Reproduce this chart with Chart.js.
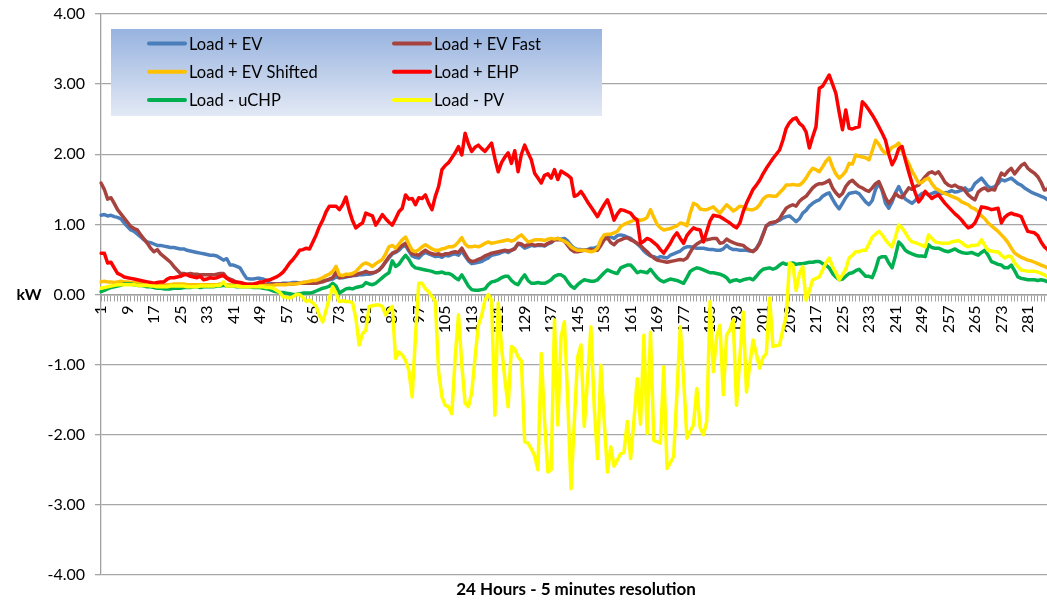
<!DOCTYPE html>
<html>
<head>
<meta charset="utf-8">
<title>Load profiles</title>
<script src="https://cdn.jsdelivr.net/npm/chart.js@4.4.0/dist/chart.umd.min.js"></script>
<style>
    html, body { margin: 0; padding: 0; background: #fff; overflow: hidden; }
    #wrap { width: 1052px; height: 601px; }
</style>
</head>
<body>
<div id="wrap"><canvas id="load-chart" width="1052" height="601"></canvas></div>
<script>
// 5 minute samples over 24 hours
const categories = [];
for (let i = 1; i <= 288; i++) categories.push(String(i));

const tickLabels = ['1','9','17','25','33','41','49','57','65','73','81','89','97','105','113','121','129','137',
    '145','153','161','169','177','185','193','201','209','217','225','233','241','249','257','265','273','281'];

const seriesNames = ['Load + EV', 'Load + EV Fast', 'Load + EV Shifted', 'Load + EHP', 'Load - uCHP', 'Load - PV'];
const seriesColors = ['#4a7ebb', '#a6433f', '#ffc000', '#ff0000', '#00b050', '#ffff00'];

const yTicks = [-4, -3, -2, -1, 0, 1, 2, 3, 4];
const yAxisLabel = 'kW';
const xAxisTitle = '24 Hours - 5 minutes resolution';

const loadEV = [
    1.13, 1.14, 1.12, 1.13, 1.11, 1.10, 1.08, 1.02, 0.97, 0.92, 0.90, 0.86, 0.82, 0.78, 0.75, 0.74,
    0.72, 0.70, 0.70, 0.69, 0.68, 0.67, 0.67, 0.66, 0.65, 0.65, 0.63, 0.62, 0.61, 0.60, 0.59, 0.58,
    0.57, 0.56, 0.56, 0.55, 0.52, 0.49, 0.51, 0.42, 0.42, 0.40, 0.38, 0.30, 0.23, 0.22, 0.22, 0.23,
    0.23, 0.22, 0.20, 0.16, 0.15, 0.15, 0.15, 0.16, 0.16, 0.16, 0.17, 0.17, 0.16, 0.17, 0.17, 0.18,
    0.18, 0.18, 0.19, 0.20, 0.20, 0.21, 0.22, 0.25, 0.24, 0.24, 0.25, 0.26, 0.27, 0.27, 0.28, 0.28,
    0.29, 0.29, 0.30, 0.32, 0.35, 0.40, 0.46, 0.52, 0.58, 0.60, 0.63, 0.68, 0.70, 0.62, 0.55, 0.53,
    0.52, 0.57, 0.60, 0.58, 0.56, 0.54, 0.55, 0.53, 0.56, 0.55, 0.57, 0.58, 0.56, 0.62, 0.55, 0.48,
    0.44, 0.45, 0.46, 0.47, 0.50, 0.52, 0.56, 0.57, 0.58, 0.60, 0.62, 0.60, 0.63, 0.66, 0.72, 0.70,
    0.66, 0.68, 0.70, 0.69, 0.70, 0.70, 0.69, 0.72, 0.74, 0.78, 0.80, 0.79, 0.80, 0.76, 0.70, 0.66,
    0.64, 0.64, 0.63, 0.64, 0.66, 0.66, 0.68, 0.72, 0.80, 0.84, 0.82, 0.80, 0.84, 0.85, 0.84, 0.82,
    0.80, 0.76, 0.72, 0.68, 0.62, 0.58, 0.55, 0.54, 0.52, 0.54, 0.53, 0.52, 0.56, 0.58, 0.60, 0.62,
    0.66, 0.68, 0.68, 0.67, 0.66, 0.66, 0.66, 0.65, 0.64, 0.64, 0.63, 0.63, 0.65, 0.70, 0.66, 0.64,
    0.64, 0.63, 0.63, 0.63, 0.62, 0.62, 0.66, 0.74, 0.86, 0.98, 1.00, 1.01, 1.04, 1.06, 1.09, 1.11,
    1.12, 1.08, 1.04, 1.08, 1.16, 1.20, 1.26, 1.30, 1.33, 1.35, 1.40, 1.43, 1.45, 1.36, 1.28, 1.22,
    1.30, 1.38, 1.44, 1.45, 1.46, 1.44, 1.38, 1.32, 1.28, 1.34, 1.50, 1.59, 1.48, 1.30, 1.23, 1.32,
    1.45, 1.54, 1.44, 1.36, 1.33, 1.30, 1.34, 1.40, 1.44, 1.45, 1.42, 1.44, 1.46, 1.45, 1.44, 1.45,
    1.46, 1.48, 1.46, 1.47, 1.49, 1.52, 1.48, 1.50, 1.58, 1.62, 1.66, 1.60, 1.54, 1.52, 1.54, 1.58,
    1.64, 1.62, 1.64, 1.66, 1.62, 1.58, 1.56, 1.52, 1.49, 1.46, 1.44, 1.42, 1.40, 1.38, 1.35, 1.36
];

const loadEVFast = [
    1.59, 1.50, 1.36, 1.38, 1.30, 1.21, 1.15, 1.09, 1.03, 0.97, 0.94, 0.92, 0.85, 0.79, 0.73, 0.66,
    0.61, 0.64, 0.58, 0.54, 0.50, 0.46, 0.40, 0.35, 0.30, 0.30, 0.29, 0.30, 0.29, 0.29, 0.28, 0.28,
    0.28, 0.28, 0.28, 0.29, 0.30, 0.30, 0.24, 0.22, 0.20, 0.17, 0.16, 0.15, 0.15, 0.15, 0.14, 0.14,
    0.14, 0.14, 0.14, 0.14, 0.15, 0.15, 0.15, 0.15, 0.15, 0.15, 0.15, 0.16, 0.16, 0.16, 0.16, 0.16,
    0.16, 0.16, 0.17, 0.18, 0.20, 0.22, 0.24, 0.32, 0.24, 0.25, 0.26, 0.26, 0.27, 0.28, 0.30, 0.31,
    0.33, 0.31, 0.31, 0.32, 0.35, 0.40, 0.47, 0.54, 0.59, 0.61, 0.66, 0.70, 0.73, 0.64, 0.58, 0.57,
    0.56, 0.60, 0.63, 0.60, 0.58, 0.57, 0.58, 0.56, 0.58, 0.58, 0.60, 0.61, 0.60, 0.66, 0.58, 0.50,
    0.47, 0.48, 0.50, 0.52, 0.55, 0.57, 0.59, 0.60, 0.61, 0.62, 0.63, 0.62, 0.63, 0.65, 0.73, 0.72,
    0.69, 0.71, 0.72, 0.70, 0.71, 0.71, 0.70, 0.73, 0.75, 0.78, 0.78, 0.78, 0.76, 0.70, 0.64, 0.61,
    0.61, 0.62, 0.63, 0.63, 0.64, 0.63, 0.63, 0.70, 0.78, 0.81, 0.74, 0.71, 0.76, 0.78, 0.80, 0.81,
    0.78, 0.76, 0.73, 0.70, 0.65, 0.61, 0.56, 0.52, 0.49, 0.48, 0.47, 0.46, 0.47, 0.48, 0.49, 0.50,
    0.49, 0.52, 0.60, 0.68, 0.72, 0.75, 0.78, 0.78, 0.79, 0.80, 0.80, 0.73, 0.74, 0.79, 0.76, 0.74,
    0.72, 0.71, 0.70, 0.66, 0.63, 0.61, 0.65, 0.73, 0.85, 0.98, 1.02, 1.03, 1.04, 1.08, 1.16, 1.23,
    1.26, 1.28, 1.26, 1.33, 1.37, 1.40, 1.46, 1.52, 1.56, 1.58, 1.58, 1.60, 1.63, 1.52, 1.45, 1.40,
    1.44, 1.54, 1.60, 1.63, 1.58, 1.54, 1.52, 1.49, 1.47, 1.52, 1.58, 1.61, 1.50, 1.38, 1.30, 1.36,
    1.44, 1.40, 1.38, 1.45, 1.52, 1.50, 1.54, 1.56, 1.62, 1.68, 1.73, 1.75, 1.72, 1.75, 1.68, 1.60,
    1.56, 1.54, 1.56, 1.53, 1.52, 1.48, 1.42, 1.38, 1.35, 1.46, 1.50, 1.52, 1.48, 1.50, 1.49, 1.62,
    1.73, 1.70, 1.76, 1.80, 1.72, 1.78, 1.84, 1.87, 1.80, 1.76, 1.73, 1.68, 1.60, 1.49, 1.50, 1.63
];

const loadEVShifted = [
    0.18, 0.19, 0.18, 0.18, 0.17, 0.18, 0.19, 0.18, 0.18, 0.17, 0.17, 0.17, 0.16, 0.16, 0.15, 0.15,
    0.14, 0.14, 0.14, 0.13, 0.14, 0.14, 0.15, 0.15, 0.15, 0.15, 0.14, 0.14, 0.14, 0.14, 0.14, 0.14,
    0.14, 0.14, 0.14, 0.14, 0.15, 0.15, 0.14, 0.14, 0.13, 0.13, 0.13, 0.13, 0.13, 0.13, 0.13, 0.13,
    0.13, 0.13, 0.13, 0.13, 0.13, 0.14, 0.14, 0.14, 0.14, 0.15, 0.15, 0.15, 0.16, 0.17, 0.18, 0.19,
    0.20, 0.20, 0.22, 0.24, 0.27, 0.29, 0.33, 0.40, 0.28, 0.27, 0.29, 0.29, 0.30, 0.33, 0.38, 0.43,
    0.45, 0.43, 0.40, 0.44, 0.47, 0.50, 0.58, 0.68, 0.70, 0.66, 0.72, 0.78, 0.82, 0.72, 0.63, 0.61,
    0.64, 0.68, 0.71, 0.68, 0.65, 0.63, 0.63, 0.65, 0.66, 0.68, 0.68, 0.70, 0.75, 0.81, 0.72, 0.68,
    0.68, 0.69, 0.68, 0.70, 0.73, 0.75, 0.73, 0.74, 0.75, 0.76, 0.77, 0.78, 0.76, 0.78, 0.82, 0.85,
    0.80, 0.75, 0.76, 0.78, 0.78, 0.78, 0.77, 0.79, 0.80, 0.79, 0.80, 0.78, 0.76, 0.73, 0.68, 0.65,
    0.63, 0.63, 0.63, 0.62, 0.61, 0.62, 0.66, 0.78, 0.85, 0.86, 0.86, 0.88, 0.90, 0.97, 1.00, 1.02,
    1.04, 1.06, 1.07, 1.06, 1.07, 1.10, 1.21, 1.10, 1.00, 0.95, 0.92, 0.93, 0.94, 0.96, 0.98, 1.02,
    1.01, 0.98, 1.16, 1.30, 1.28, 1.22, 1.21, 1.21, 1.23, 1.25, 1.20, 1.16, 1.22, 1.28, 1.24, 1.19,
    1.22, 1.26, 1.25, 1.22, 1.21, 1.21, 1.23, 1.28, 1.36, 1.40, 1.41, 1.40, 1.40, 1.45, 1.50, 1.56,
    1.56, 1.57, 1.56, 1.56, 1.60, 1.66, 1.74, 1.80, 1.78, 1.75, 1.82, 1.90, 1.95, 1.82, 1.72, 1.66,
    1.70, 1.76, 1.87, 1.86, 1.99, 1.97, 1.96, 1.95, 1.92, 2.05, 2.20, 2.14, 2.06, 2.01, 2.04, 2.10,
    2.12, 2.16, 2.05, 1.95, 1.87, 1.76, 1.68, 1.59, 1.60, 1.64, 1.66, 1.58, 1.52, 1.49, 1.46, 1.44,
    1.42, 1.40, 1.38, 1.36, 1.32, 1.30, 1.28, 1.24, 1.22, 1.18, 1.12, 1.08, 1.02, 0.98, 0.94, 0.90,
    0.85, 0.80, 0.74, 0.66, 0.59, 0.56, 0.53, 0.51, 0.49, 0.48, 0.46, 0.44, 0.42, 0.40, 0.38, 0.38
];

const loadEHP = [
    0.59, 0.59, 0.45, 0.46, 0.38, 0.30, 0.28, 0.25, 0.24, 0.23, 0.22, 0.21, 0.20, 0.19, 0.18, 0.17,
    0.16, 0.17, 0.18, 0.18, 0.22, 0.24, 0.24, 0.25, 0.26, 0.28, 0.28, 0.26, 0.25, 0.24, 0.26, 0.21,
    0.22, 0.24, 0.23, 0.24, 0.26, 0.27, 0.23, 0.20, 0.18, 0.18, 0.17, 0.16, 0.14, 0.14, 0.15, 0.16,
    0.18, 0.18, 0.20, 0.21, 0.23, 0.25, 0.28, 0.32, 0.38, 0.45, 0.50, 0.56, 0.63, 0.64, 0.66, 0.65,
    0.75, 0.85, 0.97, 1.06, 1.18, 1.26, 1.26, 1.26, 1.21, 1.28, 1.39, 1.20, 1.05, 0.95, 0.99, 1.02,
    1.16, 1.14, 1.12, 0.99, 1.06, 1.14, 1.08, 1.03, 0.99, 1.08, 1.18, 1.23, 1.42, 1.36, 1.37, 1.28,
    1.38, 1.37, 1.42, 1.30, 1.21, 1.40, 1.54, 1.78, 1.84, 1.88, 1.95, 2.02, 2.11, 1.99, 2.30, 2.15,
    2.04, 2.10, 2.13, 2.08, 2.04, 2.10, 2.16, 1.94, 1.75, 1.88, 1.96, 2.02, 1.87, 2.05, 1.75, 2.00,
    2.13, 2.02, 1.92, 1.73, 1.66, 1.59, 1.70, 1.72, 1.66, 1.78, 1.64, 1.76, 1.73, 1.70, 1.66, 1.40,
    1.42, 1.47, 1.40, 1.32, 1.25, 1.18, 1.11, 1.20, 1.28, 1.35, 1.22, 1.06, 1.15, 1.21, 1.20, 1.18,
    1.16, 1.10, 1.06, 0.73, 0.76, 0.80, 0.78, 0.74, 0.70, 0.64, 0.59, 0.66, 0.73, 0.82, 0.88, 0.80,
    0.73, 0.84, 0.90, 0.95, 0.93, 0.92, 0.75, 0.90, 1.05, 1.13, 1.12, 1.11, 1.08, 1.05, 1.02, 0.98,
    0.95, 1.02, 1.18, 1.30, 1.40, 1.50, 1.56, 1.63, 1.72, 1.80, 1.87, 1.94, 2.00, 2.06, 2.20, 2.37,
    2.45, 2.50, 2.52, 2.44, 2.40, 2.32, 2.09, 2.25, 2.39, 2.94, 2.97, 3.05, 3.13, 3.00, 2.87, 2.60,
    2.35, 2.63, 2.37, 2.36, 2.38, 2.39, 2.75, 2.70, 2.63, 2.56, 2.48, 2.39, 2.30, 2.20, 2.00, 1.85,
    1.94, 2.08, 2.11, 1.92, 1.75, 1.59, 1.45, 1.32, 1.38, 1.47, 1.42, 1.37, 1.40, 1.42, 1.36, 1.30,
    1.25, 1.20, 1.15, 1.11, 1.06, 1.00, 0.95, 0.97, 1.02, 1.12, 1.25, 1.24, 1.23, 1.21, 1.22, 1.23,
    1.02, 1.10, 1.14, 1.16, 1.14, 1.13, 1.11, 1.00, 0.90, 0.89, 0.88, 0.84, 0.75, 0.68, 0.64, 0.55
];

const loadUCHP = [
    0.04, 0.06, 0.08, 0.10, 0.11, 0.12, 0.13, 0.15, 0.15, 0.15, 0.14, 0.13, 0.13, 0.12, 0.11, 0.11,
    0.10, 0.09, 0.09, 0.08, 0.08, 0.08, 0.09, 0.09, 0.09, 0.10, 0.10, 0.10, 0.11, 0.11, 0.10, 0.11,
    0.11, 0.11, 0.11, 0.12, 0.12, 0.13, 0.12, 0.12, 0.12, 0.11, 0.11, 0.11, 0.11, 0.11, 0.10, 0.10,
    0.10, 0.09, 0.08, 0.07, 0.05, 0.04, 0.03, 0.03, 0.02, 0.01, 0.00, 0.00, 0.01, 0.02, 0.02, 0.02,
    0.03, 0.05, 0.07, 0.09, 0.10, 0.12, 0.16, 0.12, 0.02, 0.05, 0.08, 0.09, 0.08, 0.10, 0.11, 0.12,
    0.17, 0.15, 0.14, 0.16, 0.20, 0.24, 0.28, 0.31, 0.48, 0.40, 0.43, 0.50, 0.56, 0.50, 0.42, 0.38,
    0.37, 0.36, 0.35, 0.34, 0.33, 0.31, 0.31, 0.32, 0.30, 0.30, 0.28, 0.24, 0.21, 0.28, 0.20, 0.12,
    0.07, 0.06, 0.06, 0.07, 0.08, 0.14, 0.18, 0.19, 0.21, 0.24, 0.26, 0.26, 0.20, 0.16, 0.14, 0.22,
    0.28, 0.20, 0.16, 0.16, 0.17, 0.16, 0.16, 0.18, 0.21, 0.26, 0.28, 0.28, 0.25, 0.18, 0.12, 0.09,
    0.14, 0.18, 0.21, 0.20, 0.19, 0.19, 0.21, 0.26, 0.31, 0.35, 0.33, 0.31, 0.30, 0.38, 0.40, 0.42,
    0.42, 0.37, 0.31, 0.33, 0.32, 0.31, 0.36, 0.30, 0.24, 0.20, 0.18, 0.20, 0.22, 0.21, 0.20, 0.18,
    0.16, 0.24, 0.33, 0.36, 0.38, 0.37, 0.35, 0.33, 0.31, 0.31, 0.30, 0.29, 0.27, 0.24, 0.18, 0.20,
    0.21, 0.19, 0.21, 0.22, 0.23, 0.21, 0.26, 0.32, 0.36, 0.37, 0.38, 0.36, 0.38, 0.42, 0.45, 0.43,
    0.44, 0.45, 0.43, 0.44, 0.44, 0.45, 0.46, 0.46, 0.47, 0.47, 0.44, 0.42, 0.38, 0.30, 0.25, 0.21,
    0.22, 0.26, 0.30, 0.31, 0.34, 0.36, 0.31, 0.26, 0.26, 0.24, 0.36, 0.52, 0.54, 0.54, 0.45, 0.38,
    0.55, 0.75, 0.70, 0.63, 0.60, 0.58, 0.56, 0.55, 0.55, 0.54, 0.71, 0.67, 0.66, 0.66, 0.64, 0.62,
    0.61, 0.63, 0.65, 0.62, 0.60, 0.59, 0.59, 0.60, 0.58, 0.56, 0.60, 0.63, 0.56, 0.47, 0.45, 0.43,
    0.42, 0.38, 0.38, 0.42, 0.34, 0.25, 0.23, 0.22, 0.21, 0.21, 0.21, 0.20, 0.21, 0.20, 0.18, 0.19
];

const loadPV = [
    0.09, 0.10, 0.11, 0.12, 0.13, 0.14, 0.14, 0.14, 0.14, 0.14, 0.14, 0.13, 0.13, 0.13, 0.13, 0.12,
    0.12, 0.11, 0.11, 0.11, 0.11, 0.12, 0.12, 0.12, 0.12, 0.12, 0.11, 0.11, 0.11, 0.11, 0.12, 0.12,
    0.12, 0.12, 0.12, 0.13, 0.13, 0.18, 0.12, 0.12, 0.12, 0.12, 0.11, 0.11, 0.11, 0.11, 0.11, 0.11,
    0.11, 0.11, 0.10, 0.10, 0.09, 0.06, 0.03, -0.03, -0.04, -0.05, -0.03, 0.00, 0.00, -0.04, -0.10, -0.08,
    -0.12, -0.17, -0.30, -0.39, -0.22, -0.05, 0.11, 0.02, -0.10, -0.09, -0.10, -0.10, -0.12, -0.34, -0.72, -0.56,
    -0.51, -0.17, -0.16, -0.15, -0.15, -0.17, -0.29, -0.22, -0.17, -0.91, -0.82, -0.86, -0.94, -1.08, -1.46, -0.60,
    0.16, 0.16, 0.08, 0.04, -0.03, -0.10, -1.10, -1.46, -1.58, -1.60, -1.70, -0.90, -0.29, -1.00, -1.55, -1.60,
    -1.40, -0.90, -0.44, -0.30, -0.08, 0.00, -0.08, -1.72, -0.12, -0.75, -1.20, -1.60, -0.74, -0.78, -0.89, -0.95,
    -2.10, -2.12, -2.20, -2.30, -2.50, -0.84, -1.80, -2.53, -2.50, -0.36, -1.86, -0.60, -0.39, -1.50, -2.77, -1.80,
    -0.89, -0.72, -1.88, -1.20, -0.46, -1.60, -2.34, -1.01, -1.80, -2.53, -2.17, -2.45, -2.36, -2.27, -2.25, -1.81,
    -2.34, -1.80, -1.20, -1.85, -0.58, -1.98, -0.54, -2.08, -2.10, -2.12, -1.03, -2.48, -2.40, -2.31, -1.40, -0.46,
    -1.20, -2.05, -1.95, -1.86, -1.34, -1.90, -2.00, -1.81, -0.10, -1.10, -0.60, -0.44, -1.43, -0.58, -0.50, -0.36,
    -1.58, -0.90, -0.25, -1.39, -1.00, -0.65, -0.85, -1.05, -0.90, -0.84, -0.05, -0.74, -0.73, -0.72, -0.50, -0.32,
    0.45, 0.42, 0.06, 0.30, 0.40, -0.08, 0.05, 0.21, 0.23, 0.25, 0.35, 0.45, 0.52, 0.40, 0.31, 0.21,
    0.28, 0.36, 0.52, 0.56, 0.61, 0.61, 0.63, 0.63, 0.72, 0.82, 0.86, 0.90, 0.85, 0.78, 0.72, 0.68,
    0.82, 0.99, 0.95, 0.88, 0.80, 0.75, 0.74, 0.72, 0.70, 0.68, 0.85, 0.80, 0.75, 0.74, 0.73, 0.73,
    0.73, 0.75, 0.76, 0.77, 0.74, 0.70, 0.68, 0.70, 0.70, 0.71, 0.78, 0.70, 0.63, 0.62, 0.61, 0.61,
    0.56, 0.52, 0.55, 0.54, 0.45, 0.40, 0.35, 0.34, 0.33, 0.33, 0.33, 0.32, 0.30, 0.28, 0.25, 0.26
];

const seriesValues = [loadEV, loadEVFast, loadEVShifted, loadEHP, loadUCHP, loadPV];

const FONT = 'Lato, "Liberation Sans", sans-serif';
Chart.defaults.font.family = FONT;
Chart.defaults.color = '#000';

// axis titles and the legend box are painted over the plot, like the spreadsheet chart
const overlayPlugin = {
    id: 'overlay',
    afterDraw: function(chart) {
        var ctx = chart.ctx;
        var yScale = chart.scales.y;
        ctx.save();

        ctx.fillStyle = '#000';
        ctx.textAlign = 'center';
        ctx.textBaseline = 'middle';
        ctx.font = 'bold 16px ' + FONT;
        ctx.fillText(yAxisLabel, 29, yScale.getPixelForValue(0));
        ctx.font = 'bold 17px ' + FONT;
        ctx.fillText(xAxisTitle, 576, 590);

        // legend
        var lx = 111, ly = 29, lw = 491, lh = 87;
        var grad = ctx.createLinearGradient(0, ly, 0, ly + lh);
        grad.addColorStop(0, '#97b3df');
        grad.addColorStop(1, '#e3e9f5');
        ctx.fillStyle = grad;
        ctx.fillRect(lx, ly, lw, lh);

        ctx.font = '16.5px ' + FONT;
        ctx.textAlign = 'left';
        chart.data.datasets.forEach(function(ds, i) {
            var col = i % 2, row = Math.floor(i / 2);
            var x = lx + 38 + col * 245;
            var y = ly + 14.5 + row * 28.3;
            ctx.strokeStyle = ds.borderColor;
            ctx.lineWidth = 4;
            ctx.lineCap = 'round';
            ctx.beginPath();
            ctx.moveTo(x, y);
            ctx.lineTo(x + 36, y);
            ctx.stroke();
            ctx.fillStyle = '#000';
            ctx.fillText(ds.label, x + 40, y + 1);
        });

        ctx.restore();
    }
};

const datasets = seriesNames.map(function(name, i) {
    return {
        label: name,
        data: seriesValues[i],
        borderColor: seriesColors[i],
        backgroundColor: seriesColors[i],
        borderWidth: 3.5,
        pointRadius: 0,
        tension: 0,
        fill: false,
        borderJoinStyle: 'round',
        borderCapStyle: 'round',
        order: seriesNames.length - i   // later series on top
    };
});

const ctx = document.getElementById('load-chart').getContext('2d');
const chart = new Chart(ctx, {
    type: 'line',
    data: {
        labels: categories,
        datasets: datasets
    },
    options: {
        responsive: false,
        animation: false,
        devicePixelRatio: 1,
        layout: { padding: { top: 14, bottom: 26, left: 0, right: 1 } },
        plugins: {
            legend: { display: false },
            tooltip: { enabled: false },
            title: { display: false }
        },
        scales: {
            x: {
                type: 'category',
                position: { y: 0 },
                offset: false,
                grid: {
                    drawOnChartArea: false,
                    color: '#a0a0a0',
                    lineWidth: 1,
                    tickLength: 6,
                    offset: false
                },
                border: { color: '#a0a0a0', width: 1.5 },
                ticks: {
                    autoSkip: false,
                    minRotation: 90,
                    maxRotation: 90,
                    padding: 5,
                    font: { size: 16 },
                    color: '#000',
                    callback: function(value, index) {
                        var lab = categories[index];
                        return tickLabels.indexOf(lab) >= 0 ? lab : '';
                    }
                },
                afterFit: function(scale) {
                    scale.paddingLeft = 0;
                    scale.paddingRight = 0;
                    scale.paddingTop = 0;
                    scale.paddingBottom = 0;
                }
            },
            y: {
                min: yTicks[0],
                max: yTicks[yTicks.length - 1],
                position: 'left',
                grid: {
                    color: '#a6a6a6',
                    lineWidth: 1.3,
                    tickLength: 6
                },
                border: { color: '#a0a0a0', width: 1.3 },
                ticks: {
                    stepSize: 1,
                    padding: 10,
                    font: { size: 16 },
                    color: '#000',
                    callback: function(v) { return Number(v).toFixed(2); }
                },
                afterFit: function(scale) {
                    scale.width = 101;
                    scale.paddingTop = 0;
                    scale.paddingBottom = 0;
                }
            }
        }
    },
    plugins: [overlayPlugin]
});
</script>
</body>
</html>
